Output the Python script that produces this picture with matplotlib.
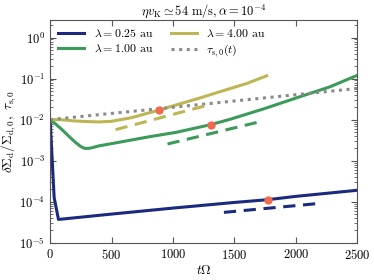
import matplotlib
matplotlib.use("Agg")
import matplotlib.pyplot as plt
import numpy as np

plt.rcParams["font.family"] = "serif"
plt.rcParams["font.serif"] = ["cmr10", "DejaVu Serif"]
plt.rcParams["mathtext.fontset"] = "cm"
plt.rcParams["axes.formatter.use_mathtext"] = True

C_BLUE = "#1b2a7e"
C_GREEN = "#3c9a5a"
C_OLIVE = "#bdb654"
C_GREY = "#8a8a8a"
C_DOT = "#f06a4e"

# lambda = 0.25 au
t_blue = [0, 33, 68, 500, 1000, 1500, 1770, 2000, 2500]
y_blue = [1e-2, 1.25e-4, 3.7e-5, 5.0e-5, 7.0e-5, 9.6e-5, 1.12e-4, 1.35e-4, 1.9e-4]

# lambda = 1.00 au
t_green = [0, 50, 100, 150, 200, 250, 281, 320, 400, 600, 800, 1025, 1311,
           1465, 1736, 2007, 2278, 2500]
y_green = [1e-2, 7.6e-3, 5.6e-3, 4.0e-3, 2.9e-3, 2.2e-3, 2.0e-3, 2.0e-3, 2.3e-3,
           2.95e-3, 3.8e-3, 4.9e-3, 7.6e-3, 1.02e-2, 1.82e-2, 3.4e-2, 6.3e-2, 1.2e-1]

# lambda = 4.00 au
t_olive = [0, 81, 200, 300, 400, 500, 664, 883, 1017, 1200, 1438, 1600, 1763]
y_olive = [1e-2, 1e-2, 9.3e-3, 9.0e-3, 8.8e-3, 9.1e-3, 1.12e-2, 1.7e-2, 2.24e-2,
           3.24e-2, 5.4e-2, 7.6e-2, 1.17e-1]

# tau_s,0(t)
t_tau = [0, 500, 1000, 1500, 2000, 2500]
y_tau = [1e-2, 1.42e-2, 2.0e-2, 2.85e-2, 4.05e-2, 5.75e-2]

# dashed reference slopes
t_blue_d = [1415, 2158]
y_blue_d = [5.5e-5, 8.9e-5]
t_green_d = [956, 1694]
y_green_d = [2.55e-3, 8.7e-3]
t_olive_d = [533, 1270]
y_olive_d = [5.7e-3, 2.2e-2]

# markers
t_dots = [1770, 1311, 883]
y_dots = [1.12e-4, 7.6e-3, 1.7e-2]

fig = plt.figure(figsize=(3.74, 2.8), dpi=100)
ax = fig.add_axes([0.134, 0.133, 0.821, 0.796])

ax.plot(t_blue, y_blue, color=C_BLUE, lw=2.2, label=r"$\lambda=0.25$ au")
ax.plot(t_green, y_green, color=C_GREEN, lw=2.2, label=r"$\lambda=1.00$ au")
ax.plot(t_olive, y_olive, color=C_OLIVE, lw=2.2, label=r"$\lambda=4.00$ au")
ax.plot(t_tau, y_tau, color=C_GREY, lw=2.2, ls=(0, (1, 1.5)), label=r"$\tau_{\rm s,0}(t)$")

ax.plot(t_blue_d, y_blue_d, color=C_BLUE, lw=2.2, ls=(0, (4, 2.5)))
ax.plot(t_green_d, y_green_d, color=C_GREEN, lw=2.2, ls=(0, (4, 2.5)))
ax.plot(t_olive_d, y_olive_d, color=C_OLIVE, lw=2.2, ls=(0, (4, 2.5)))

ax.plot(t_dots, y_dots, "o", color=C_DOT, ms=5, zorder=5)

ax.set_yscale("log")
ax.set_xlim(0, 2500)
ax.set_ylim(1e-5, 2.7)
ax.set_xticks([0, 500, 1000, 1500, 2000, 2500])

for s in ax.spines.values():
    s.set_color("#555555")
ax.tick_params(which="both", direction="in", top=True, right=True,
               labelsize=9, colors="#555555", labelcolor="black")
ax.tick_params(which="major", length=4)
ax.tick_params(which="minor", length=2)

ax.set_xlabel(r"$t\Omega$", fontsize=9.5, labelpad=2)
ax.set_ylabel(r"$\delta\Sigma_{\rm d}/\Sigma_{\rm d,0},\ \tau_{\rm s,0}$", fontsize=9.5, labelpad=1)
ax.set_title(r"$\eta v_{\rm K}\simeq 54\ {\rm m/s}, \alpha=10^{-4}$", fontsize=9, pad=3)

ax.legend(loc="upper left", ncol=2, fontsize=8.5, frameon=False,
          handlelength=2.2, columnspacing=1.5, borderaxespad=0.3, labelspacing=0.3)

fig.savefig("out.png", dpi=100)
